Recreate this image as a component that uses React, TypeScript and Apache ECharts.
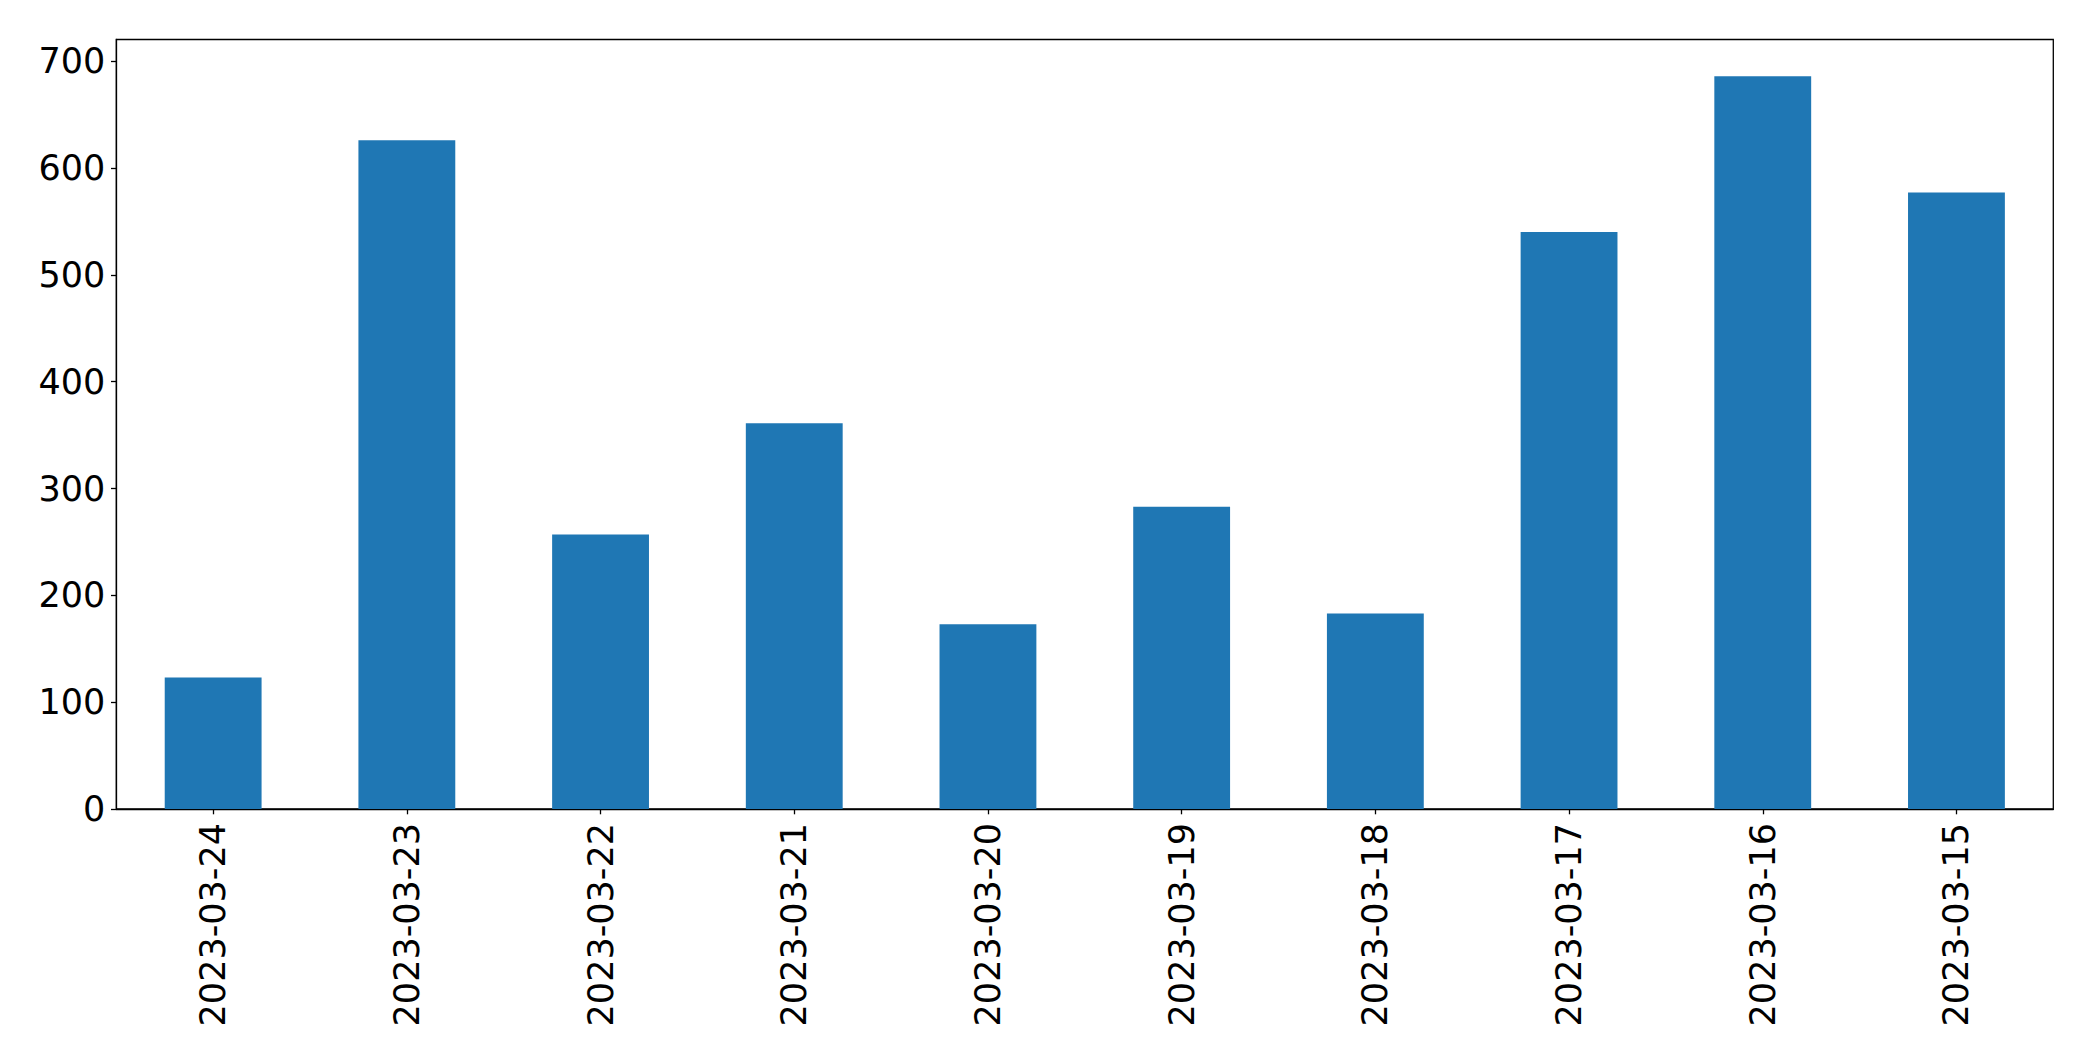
import React, { useEffect, useRef } from "react";
import * as echarts from "echarts";

const categories = [
  "2023-03-24",
  "2023-03-23",
  "2023-03-22",
  "2023-03-21",
  "2023-03-20",
  "2023-03-19",
  "2023-03-18",
  "2023-03-17",
  "2023-03-16",
  "2023-03-15",
];
const values = [123, 626, 257, 361, 173, 283, 183, 540, 686, 577];
const yTicks = [0, 100, 200, 300, 400, 500, 600, 700];
const yMax = 720.3;

export default function App() {
  const ref = useRef<HTMLDivElement>(null);
  useEffect(() => {
    if (!ref.current) return;
    const chart = echarts.init(ref.current, undefined, { renderer: "svg" });
    const font = "DejaVu Sans";
    chart.setOption({
      animation: false,
      backgroundColor: "#ffffff",
      grid: {
        left: 116.3,
        right: 39.7,
        top: 39.5,
        bottom: 252,
        show: true,
        borderColor: "#000000",
        borderWidth: 1.3,
        backgroundColor: "transparent",
      },
      xAxis: {
        type: "category",
        data: categories,
        boundaryGap: true,
        axisLine: { show: true, lineStyle: { color: "#000000", width: 1.3 } },
        axisTick: {
          show: true,
          alignWithLabel: true,
          length: 5.3,
          lineStyle: { color: "#000000", width: 1.3 },
        },
        axisLabel: {
          rotate: 90,
          interval: 0,
          margin: 14,
          fontFamily: font,
          fontSize: 35,
          color: "#000000",
        },
        splitLine: { show: false },
      },
      yAxis: {
        type: "value",
        min: 0,
        max: yMax,
        interval: 100,
        axisLine: { show: true, lineStyle: { color: "#000000", width: 1.3 } },
        axisTick: {
          show: true,
          length: 5.3,
          lineStyle: { color: "#000000", width: 1.3 },
          customValues: yTicks,
        },
        axisLabel: {
          margin: 11,
          fontFamily: font,
          fontSize: 35,
          color: "#000000",
          customValues: yTicks,
        },
        splitLine: { show: false },
      },
      series: [
        {
          type: "bar",
          data: values,
          barWidth: "50%",
          itemStyle: { color: "#1f77b4" },
        },
      ],
    });
    return () => chart.dispose();
  }, []);
  return (
    <div
      ref={ref}
      style={{ position: "fixed", left: 0, top: 0, width: 2093, height: 1061, background: "#fff" }}
    />
  );
}
